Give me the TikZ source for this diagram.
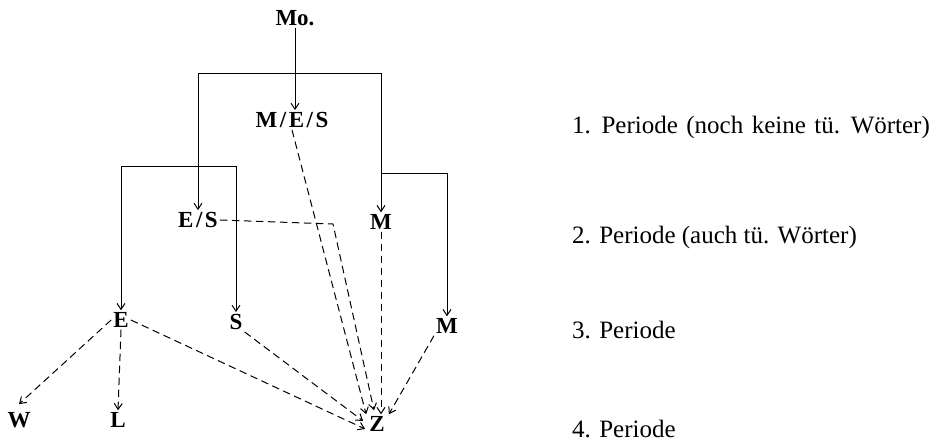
\documentclass[tikz,border=0pt]{standalone}
\usepackage{fontspec}
\setmainfont{Liberation Serif}
\usetikzlibrary{arrows.meta,calc}
\begin{document}
\begin{tikzpicture}[x=1pt,y=-1pt,
  lett/.style={inner sep=2pt,font=\fontsize{23}{26}\selectfont\bfseries},
  per/.style={anchor=base west,inner sep=0pt,font=\fontsize{25}{28}\selectfont},
  tip/.tip={Straight Barb[length=6pt,width=8pt,line width=1pt]},
  arr/.style={line width=1pt,-tip},
  barr/.style={line width=1pt,tip-tip},
  darr/.style={arr,dash pattern=on 7.5pt off 4.5pt}]
\useasboundingbox (0,0) rectangle (939,442);

% family tree letters
\node[lett] (mo)  at (295,18)  {Mo.};
\node[lett] (mes) at (292,120) {M\kern2.5pt/\kern2.5pt E\kern2.5pt/\kern2.5pt S};
\node[lett] (es)  at (198,220) {E\kern2.5pt/\kern2.5pt S};
\node[lett] (m2)  at (381,222) {M};
\node[lett] (e)   at (121,320) {E};
\node[lett] (s)   at (236,322) {S};
\node[lett] (m3)  at (447,326) {M};
\node[lett] (w)   at (19,420)  {W};
\node[lett] (l)   at (118,420) {L};
\node[lett] (z)   at (377,424) {Z};

% period labels
\node[per] (p1) at (572,133) {\spaceskip=8.5pt 1. Periode (noch keine tü. Wörter)};
\node[per] (p2) at (572,243) {2. Periode (auch tü. Wörter)};
\node[per] (p3) at (572,338) {3. Periode};
\node[per] (p4) at (572,437) {4. Periode};

% helper levels for the brackets
\coordinate (t1) at (0,73);
\coordinate (t2) at (0,166);
\coordinate (t3) at (0,173);
\coordinate (bend) at (333,224);

% solid descent
\draw[arr] (mo.south) -- (mo.south |- mes.north);
\draw[barr] (es.north) -- (es.north |- t1) -- (m2.north |- t1) -- (m2.north);
\draw[barr] (e.north) -- (e.north |- t2) -- (s.north |- t2) -- (s.north);
\draw[arr] (m2.north |- t3) -- (m3.north |- t3) -- (m3.north);

% dashed influences
\draw[darr] (mes.south) -- ([xshift=-1pt]z.north west);
\draw[darr] (es.east) -- (bend) -- ([xshift=-3pt,yshift=4pt]z.north);
\draw[darr] (m2.south) -- (m2.south |- z.north);
\draw[darr] (m3.south west) -- ([xshift=2pt]z.north east);
\draw[darr] (e.east) -- ([xshift=-2pt,yshift=-5pt]z.west);
\draw[darr] (s.south east) -- ([xshift=-4pt,yshift=3pt]z.west);
\draw[darr] (e.west) -- ([yshift=6pt]w.north);
\draw[darr] (e.south) -- (l.north);
\end{tikzpicture}
\end{document}
